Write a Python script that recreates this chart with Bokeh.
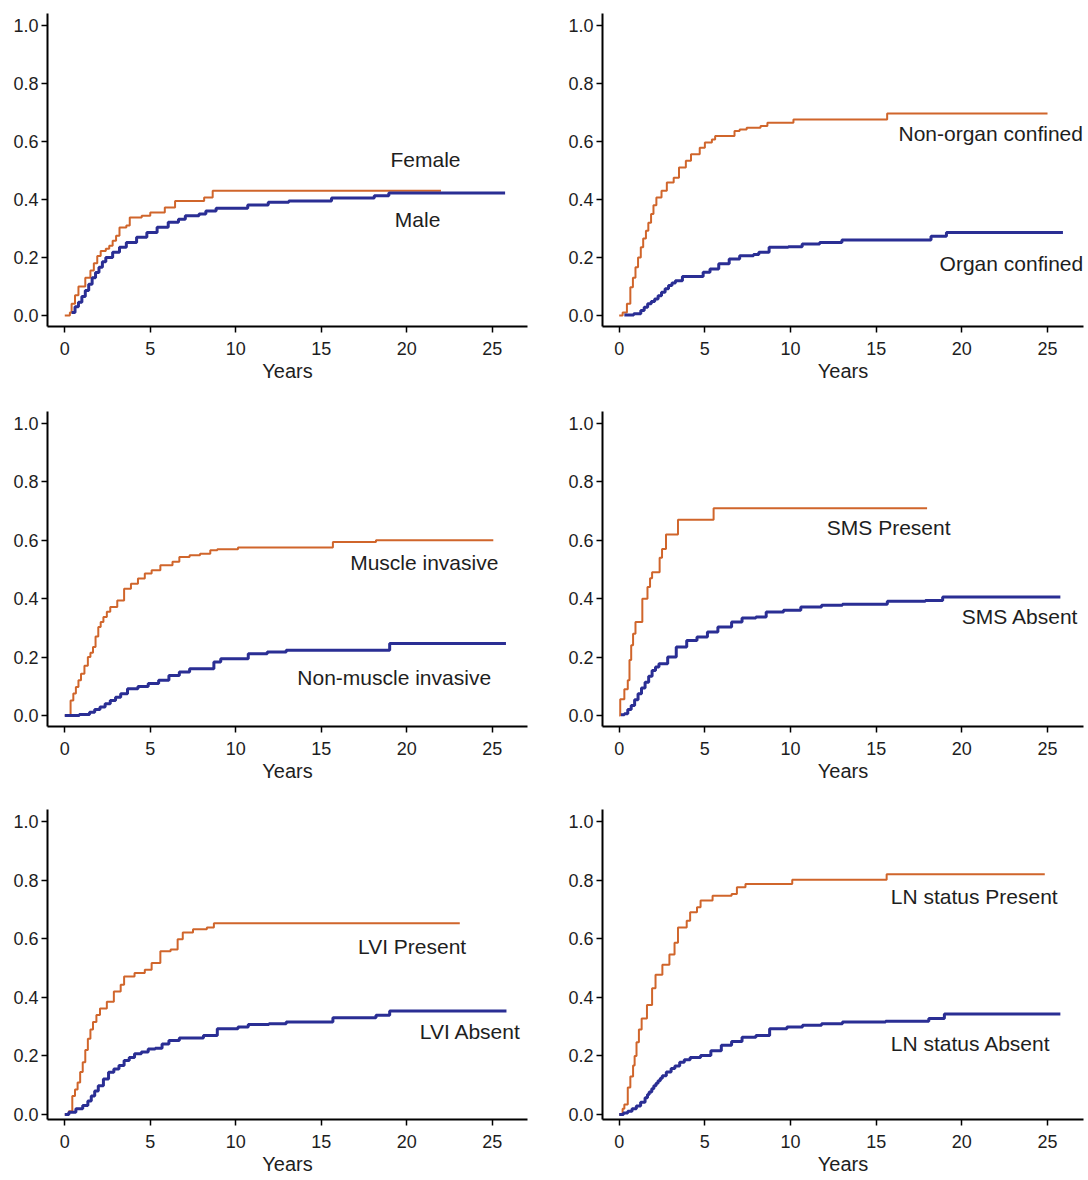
from bokeh.plotting import figure
from bokeh.layouts import column, row
from bokeh.models import Range1d, Label, PrintfTickFormatter, FixedTicker
from bokeh.embed import file_html
from bokeh.resources import INLINE

# ---------------- data ----------------
x_ticks = [0, 5, 10, 15, 20, 25]
y_ticks = [0.0, 0.2, 0.4, 0.6, 0.8, 1.0]
x_label = "Years"

# Panel 1: sex
female_x = [0, 0.3, 0.4, 0.6, 0.8, 1.2, 1.5, 1.7, 1.9, 2.1, 2.4, 2.6, 2.8, 3.0, 3.2, 3.6, 3.8, 4.5, 5.0, 5.85, 6.45, 8.15, 8.65, 22.0]
female_y = [0, 0.01, 0.04, 0.07, 0.10, 0.13, 0.155, 0.18, 0.205, 0.222, 0.23, 0.24, 0.258, 0.275, 0.303, 0.31, 0.338, 0.344, 0.355, 0.372, 0.395, 0.407, 0.43, 0.43]
male_x = [0.4, 0.6, 0.8, 1.0, 1.2, 1.4, 1.6, 1.8, 2.0, 2.2, 2.4, 2.8, 3.2, 3.6, 4.2, 4.8, 5.4, 6.05, 6.65, 7.05, 7.85, 8.25, 8.85, 10.7, 11.9, 13.1, 15.6, 18.1, 18.95, 25.75]
male_y = [0.01, 0.03, 0.046, 0.065, 0.086, 0.108, 0.13, 0.148, 0.166, 0.185, 0.2, 0.218, 0.235, 0.252, 0.27, 0.286, 0.304, 0.321, 0.332, 0.344, 0.35, 0.36, 0.37, 0.381, 0.39, 0.395, 0.405, 0.413, 0.422, 0.422]

# Panel 2: organ confinement
nonorgan_x = [0, 0.2, 0.45, 0.65, 0.8, 0.95, 1.1, 1.26, 1.4, 1.56, 1.7, 1.86, 2.0, 2.17, 2.47, 2.78, 3.18, 3.49, 3.89, 4.19, 4.7, 5.0, 5.41, 5.6, 6.73, 7.03, 7.44, 8.25, 8.65, 10.17, 15.64, 25.0]
nonorgan_y = [0, 0.01, 0.04, 0.097, 0.13, 0.166, 0.2, 0.235, 0.265, 0.292, 0.32, 0.35, 0.38, 0.407, 0.43, 0.458, 0.475, 0.51, 0.533, 0.556, 0.578, 0.596, 0.607, 0.619, 0.636, 0.641, 0.647, 0.653, 0.664, 0.676, 0.696, 0.696]
organ_x = [0.3, 0.85, 1.26, 1.46, 1.66, 1.87, 2.07, 2.27, 2.47, 2.68, 2.88, 3.08, 3.28, 3.69, 4.9, 5.3, 5.81, 6.42, 7.03, 7.84, 8.15, 8.75, 9.87, 10.68, 11.7, 13.0, 18.2, 19.1, 25.9]
organ_y = [0.002, 0.006, 0.017, 0.028, 0.04, 0.048, 0.057, 0.068, 0.08, 0.092, 0.103, 0.112, 0.12, 0.134, 0.149, 0.16, 0.178, 0.195, 0.206, 0.21, 0.218, 0.235, 0.237, 0.246, 0.252, 0.26, 0.273, 0.286, 0.286]

# Panel 3: muscle invasion
muscle_x = [0, 0.34, 0.5, 0.65, 0.8, 0.95, 1.15, 1.35, 1.5, 1.65, 1.8, 1.96, 2.1, 2.26, 2.46, 2.66, 3.07, 3.47, 3.87, 4.28, 4.68, 5.08, 5.59, 6.3, 6.7, 7.3, 7.91, 8.51, 8.92, 10.13, 15.68, 18.2, 25.06]
muscle_y = [0, 0.051, 0.075, 0.097, 0.12, 0.143, 0.17, 0.2, 0.215, 0.234, 0.27, 0.303, 0.32, 0.337, 0.355, 0.371, 0.394, 0.434, 0.451, 0.469, 0.486, 0.497, 0.514, 0.526, 0.543, 0.549, 0.554, 0.566, 0.569, 0.575, 0.594, 0.6, 0.6]
nonmuscle_x = [0, 0.85, 1.45, 1.75, 2.06, 2.36, 2.66, 2.97, 3.27, 3.67, 4.28, 4.88, 5.49, 6.09, 6.7, 7.3, 8.72, 9.12, 10.73, 11.84, 12.95, 19.0, 25.8]
nonmuscle_y = [0, 0.003, 0.011, 0.02, 0.029, 0.04, 0.051, 0.062, 0.074, 0.091, 0.099, 0.109, 0.12, 0.137, 0.149, 0.16, 0.183, 0.194, 0.211, 0.217, 0.223, 0.246, 0.246]

# Panel 4: SMS
sms_p_x = [0, 0.06, 0.3, 0.5, 0.6, 0.7, 0.81, 0.95, 1.35, 1.65, 1.8, 1.92, 2.36, 2.5, 2.73, 3.43, 5.51, 17.97]
sms_p_y = [0, 0.055, 0.09, 0.12, 0.19, 0.24, 0.28, 0.32, 0.40, 0.44, 0.47, 0.49, 0.54, 0.57, 0.62, 0.67, 0.71, 0.71]
sms_a_x = [0.1, 0.3, 0.5, 0.7, 0.9, 1.1, 1.3, 1.51, 1.72, 1.92, 2.12, 2.32, 2.83, 3.33, 3.94, 4.54, 5.15, 5.76, 6.56, 7.17, 7.98, 8.58, 9.59, 10.6, 11.81, 13.03, 15.65, 17.87, 18.88, 25.75]
sms_a_y = [0.002, 0.006, 0.02, 0.034, 0.054, 0.074, 0.094, 0.114, 0.134, 0.154, 0.166, 0.177, 0.2, 0.234, 0.257, 0.269, 0.286, 0.303, 0.32, 0.334, 0.337, 0.354, 0.36, 0.371, 0.377, 0.381, 0.391, 0.394, 0.406, 0.406]

# Panel 5: LVI
lvi_p_x = [0, 0.24, 0.44, 0.6, 0.75, 0.9, 1.05, 1.2, 1.35, 1.5, 1.65, 1.85, 2.06, 2.46, 2.87, 3.27, 3.47, 4.08, 4.68, 5.08, 5.59, 6.19, 6.6, 6.9, 7.5, 8.31, 8.72, 23.1]
lvi_p_y = [0, 0.011, 0.063, 0.085, 0.109, 0.145, 0.178, 0.22, 0.259, 0.29, 0.316, 0.34, 0.362, 0.385, 0.42, 0.443, 0.471, 0.483, 0.494, 0.517, 0.557, 0.563, 0.598, 0.621, 0.632, 0.638, 0.653, 0.653]
lvi_a_x = [0, 0.24, 0.65, 1.05, 1.35, 1.55, 1.75, 1.96, 2.26, 2.56, 2.87, 3.17, 3.47, 3.77, 4.08, 4.48, 4.88, 5.29, 5.69, 6.09, 6.7, 8.11, 8.92, 10.13, 10.73, 11.94, 12.95, 15.68, 18.2, 19.0, 25.83]
lvi_a_y = [0, 0.008, 0.02, 0.031, 0.046, 0.063, 0.08, 0.098, 0.121, 0.144, 0.155, 0.167, 0.184, 0.195, 0.207, 0.213, 0.224, 0.226, 0.241, 0.253, 0.261, 0.27, 0.293, 0.299, 0.307, 0.31, 0.316, 0.33, 0.339, 0.353, 0.353]

# Panel 6: LN status
ln_p_x = [0, 0.2, 0.3, 0.5, 0.65, 0.81, 0.9, 1.01, 1.15, 1.31, 1.62, 1.92, 2.12, 2.52, 2.93, 3.23, 3.43, 3.94, 4.14, 4.54, 4.75, 5.45, 6.56, 6.87, 7.37, 10.1, 15.61, 24.84]
ln_p_y = [0, 0.02, 0.034, 0.092, 0.13, 0.167, 0.2, 0.247, 0.29, 0.328, 0.374, 0.431, 0.477, 0.511, 0.546, 0.586, 0.638, 0.661, 0.69, 0.707, 0.73, 0.747, 0.753, 0.776, 0.787, 0.801, 0.82, 0.82]
ln_a_x = [0, 0.25, 0.5, 0.75, 1.0, 1.25, 1.51, 1.65, 1.75, 1.9, 2.02, 2.15, 2.27, 2.4, 2.52, 2.75, 3.03, 3.25, 3.53, 3.8, 4.14, 4.75, 5.35, 5.96, 6.56, 7.17, 7.98, 8.78, 9.79, 10.7, 11.81, 13.03, 15.55, 18.07, 18.98, 25.75]
ln_a_y = [0, 0.005, 0.011, 0.02, 0.029, 0.042, 0.057, 0.068, 0.077, 0.088, 0.098, 0.107, 0.115, 0.124, 0.132, 0.145, 0.157, 0.166, 0.178, 0.187, 0.195, 0.201, 0.218, 0.236, 0.249, 0.264, 0.27, 0.293, 0.299, 0.305, 0.31, 0.316, 0.318, 0.328, 0.343, 0.343]

# ---------------- styling ----------------
ORANGE = "#D0652B"
BLUE = "#2A2E94"
FONT = "Liberation Sans"
TXT = "#1e1e1e"


def make_panel(ox, oy, bx, by, labels, width, height, borders, xrange, yrange):
    left, right, top, bottom = borders
    p = figure(width=width, height=height, output_backend="svg",
               toolbar_location=None,
               x_range=Range1d(*xrange), y_range=Range1d(*yrange),
               min_border_left=left, min_border_right=right,
               min_border_top=top, min_border_bottom=bottom)
    p.outline_line_color = None
    p.grid.visible = False
    p.background_fill_color = "white"
    p.border_fill_color = "white"

    p.step(ox, oy, mode="after", line_color=ORANGE, line_width=2)
    p.step(bx, by, mode="after", line_color=BLUE, line_width=3)

    for (tx, ty, t) in labels:
        p.add_layout(Label(x=tx, y=ty, text=t, text_font=FONT, text_font_size="21px",
                           text_color=TXT, text_align="left", text_baseline="middle"))

    for ax in (p.xaxis[0], p.yaxis[0]):
        ax.axis_line_color = "black"
        ax.axis_line_width = 2
        ax.major_tick_line_color = "black"
        ax.major_tick_line_width = 1.5
        ax.major_tick_in = 0
        ax.major_tick_out = 6
        ax.minor_tick_line_color = None
        ax.major_label_text_font = FONT
        ax.major_label_text_font_size = "18px"
        ax.major_label_text_color = TXT
    p.xaxis.ticker = FixedTicker(ticks=x_ticks)
    p.yaxis.ticker = FixedTicker(ticks=y_ticks)
    p.yaxis.formatter = PrintfTickFormatter(format="%.1f")
    p.yaxis.major_label_standoff = 3
    p.xaxis.major_label_standoff = 9
    p.xaxis.axis_label = x_label
    p.xaxis.axis_label_text_font = FONT
    p.xaxis.axis_label_text_font_size = "20px"
    p.xaxis.axis_label_text_font_style = "normal"
    p.xaxis.axis_label_text_color = TXT
    p.xaxis.axis_label_standoff = 2
    return p


LW, RW = 548, 540
LX = (-1.01, 27.06)
RX = (-0.975, 27.1)
# (height, border_top, border_bottom, y_range)
rows = [(390, 13, 64, (-0.038, 1.041)),
        (400, 21, 64, (-0.038, 1.041)),
        (390, 19, 61, (-0.017, 1.041))]

panels = [
    (female_x, female_y, male_x, male_y,
     [(19.05, 0.536, "Female"), (19.3, 0.33, "Male")]),
    (nonorgan_x, nonorgan_y, organ_x, organ_y,
     [(16.3, 0.628, "Non-organ confined"), (18.7, 0.18, "Organ confined")]),
    (muscle_x, muscle_y, nonmuscle_x, nonmuscle_y,
     [(16.69, 0.525, "Muscle invasive"), (13.6, 0.13, "Non-muscle invasive")]),
    (sms_p_x, sms_p_y, sms_a_x, sms_a_y,
     [(12.12, 0.645, "SMS Present"), (20.0, 0.34, "SMS Absent")]),
    (lvi_p_x, lvi_p_y, lvi_a_x, lvi_a_y,
     [(17.15, 0.572, "LVI Present"), (20.76, 0.282, "LVI Absent")]),
    (ln_p_x, ln_p_y, ln_a_x, ln_a_y,
     [(15.85, 0.743, "LN status Present"), (15.85, 0.242, "LN status Absent")]),
]

figs = []
for i, (ox, oy, bx, by, labs) in enumerate(panels):
    h, top, bottom, yr = rows[i // 2]
    if i % 2 == 0:
        f = make_panel(ox, oy, bx, by, labs, LW, h, (47, 21, top, bottom), LX, yr)
    else:
        f = make_panel(ox, oy, bx, by, labs, RW, h, (54, 5, top, bottom), RX, yr)
    figs.append(f)

layout = column(row(figs[0], figs[1]), row(figs[2], figs[3]), row(figs[4], figs[5]))

open("out.html", "w").write(file_html(layout, INLINE))
